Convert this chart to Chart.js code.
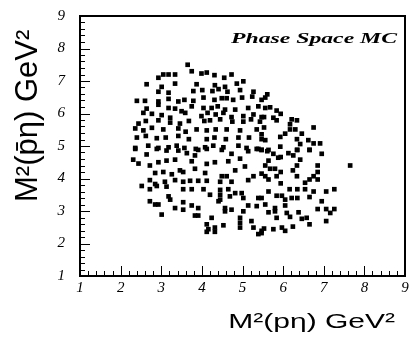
<!DOCTYPE html>
<html>
<head>
<meta charset="utf-8">
<script src="https://cdn.jsdelivr.net/npm/chart.js@4.4.1/dist/chart.umd.min.js"></script>
<style>
  html, body { margin: 0; padding: 0; background: #fff; }
</style>
</head>
<body>
<canvas id="dalitz" width="413" height="349"></canvas>
<script>
// eixos
const axisMin = 1;
const axisMax = 9;
const tickLabels = [1, 2, 3, 4, 5, 6, 7, 8, 9];
const xTitle = "M\u00b2(p\u03b7) GeV\u00b2";
const yTitle = "M\u00b2(p\u0304\u03b7) GeV\u00b2";
const plotLabel = "Phase Space MC";

// eventos: [M²(pη), M²(p̄η)]
const events = [
  [3.65, 7.50],
  [2.93, 7.10], [3.05, 7.20], [3.18, 7.20], [3.34, 7.20], [3.75, 7.30], [3.99, 7.23], [4.12, 7.26],
  [4.31, 7.18], [4.55, 7.10], [4.73, 7.20],
  [2.64, 6.90], [3.01, 6.82], [3.34, 6.92], [3.87, 6.90], [4.32, 6.87], [4.57, 6.82], [4.86, 6.92],
  [5.02, 6.99],
  [2.93, 6.67], [3.18, 6.64], [3.79, 6.69], [4.01, 6.72], [4.26, 6.69], [4.41, 6.75], [4.63, 6.67],
  [4.94, 6.72], [5.27, 6.67],
  [2.40, 6.39], [2.60, 6.39], [2.93, 6.37], [3.18, 6.45], [3.42, 6.37], [3.57, 6.42], [3.79, 6.39],
  [4.04, 6.49], [4.31, 6.42], [4.49, 6.47], [4.61, 6.47], [4.77, 6.42], [4.99, 6.49], [5.24, 6.52],
  [2.64, 6.15], [2.93, 6.27], [3.18, 6.17], [3.34, 6.15], [3.50, 6.07], [3.75, 6.22], [4.04, 6.17],
  [4.24, 6.17], [4.39, 6.22], [4.57, 6.12], [4.82, 6.12], [5.14, 6.17], [5.39, 6.22],
  [2.56, 6.02], [2.77, 5.99], [3.01, 5.95], [3.22, 5.87], [3.59, 6.02], [3.99, 5.92], [4.14, 6.02],
  [4.34, 5.97], [4.53, 6.02], [4.73, 5.89], [5.02, 5.92], [5.27, 5.97], [5.47, 5.89],
  [2.44, 5.69], [2.62, 5.77], [2.93, 5.79], [3.22, 5.72], [3.46, 5.69], [3.68, 5.77], [4.06, 5.77],
  [4.20, 5.79], [4.45, 5.82], [4.75, 5.75], [5.02, 5.75], [5.21, 5.82], [5.43, 5.75],
  [2.36, 5.54], [2.56, 5.48], [2.77, 5.56], [3.05, 5.51], [3.42, 5.54], [3.60, 5.44], [3.87, 5.51],
  [4.12, 5.48], [4.34, 5.51], [4.61, 5.51], [4.94, 5.48], [5.35, 5.51],
  [2.40, 5.26], [2.62, 5.31], [2.89, 5.24], [3.11, 5.26], [3.42, 5.31], [3.68, 5.21], [4.12, 5.21],
  [4.31, 5.26], [4.59, 5.21], [4.90, 5.26], [5.16, 5.26], [5.47, 5.21],
  [2.36, 4.94], [2.68, 5.01], [2.93, 4.94], [3.18, 4.96], [3.38, 5.01], [3.57, 4.94], [3.85, 4.91],
  [4.08, 4.96], [4.28, 5.01], [4.53, 4.96], [4.90, 5.01], [5.10, 4.94], [5.39, 4.91],
  // lado direito, parte de cima
  [5.61, 6.59], [5.47, 6.42], [5.56, 6.49], [5.56, 6.17], [5.68, 6.19], [5.84, 6.09], [5.94, 5.99],
  [5.53, 5.89], [5.76, 5.87], [5.84, 5.79], [6.21, 5.82], [6.34, 5.79], [6.17, 5.67], [6.17, 5.51],
  [6.30, 5.51], [6.75, 5.57], [5.53, 5.57], [5.47, 5.36], [6.05, 5.38], [5.93, 5.28], [6.46, 5.38],
  [6.34, 5.21], [6.42, 5.06], [6.62, 5.18], [6.75, 5.08], [6.91, 5.08], [5.56, 5.18], [5.93, 4.98],
  [5.47, 4.88], [5.64, 4.88], [6.34, 4.88], [6.65, 4.88],
  // metade de baixo, lado esquerdo
  [2.36, 4.91], [2.64, 4.74], [2.89, 4.91], [3.13, 4.86], [3.42, 4.86], [3.63, 4.78], [3.83, 4.71],
  [3.91, 4.88], [4.12, 4.91], [4.49, 4.88], [4.73, 4.76], [5.14, 4.84], [5.35, 4.91],
  [2.31, 4.58], [2.44, 4.46], [2.72, 4.40], [2.93, 4.50], [3.13, 4.55], [3.34, 4.58], [3.75, 4.53],
  [4.12, 4.45], [4.32, 4.50], [4.65, 4.53], [4.94, 4.61], [5.06, 4.37],
  [2.85, 4.17], [3.05, 4.20], [3.26, 4.13], [3.46, 4.25], [3.54, 4.20], [3.83, 4.30], [4.08, 4.17],
  [4.49, 4.07], [4.61, 4.07], [4.82, 4.25], [5.27, 4.07], [5.47, 4.15],
  [2.72, 3.95], [2.85, 3.83], [3.09, 3.90], [3.34, 3.95], [3.54, 3.90], [3.71, 3.93], [3.91, 3.93],
  [4.12, 3.93], [4.45, 3.90], [4.73, 3.90], [5.14, 3.95],
  [2.52, 3.77], [2.72, 3.67], [2.89, 3.77], [3.13, 3.75], [3.54, 3.67], [3.75, 3.67], [4.04, 3.67],
  [4.45, 3.65], [4.65, 3.67],
  [3.18, 3.45], [3.22, 3.35], [4.20, 3.50], [4.45, 3.50], [4.45, 3.35], [4.69, 3.45], [4.82, 3.55],
  [4.98, 3.55], [5.02, 3.40], [5.39, 3.40], [2.72, 3.30],
  [2.85, 3.20], [2.93, 3.20], [3.34, 3.09], [3.54, 3.27], [3.75, 3.17], [4.41, 3.30], [4.57, 3.09],
  [4.73, 3.04], [5.14, 3.17], [5.35, 3.15],
  [3.01, 2.89], [3.54, 3.04], [3.83, 2.86], [3.91, 3.09], [3.91, 2.86], [4.24, 2.79], [4.57, 2.99],
  [4.94, 2.79], [5.02, 2.99], [5.22, 2.69],
  [4.12, 2.59], [4.16, 2.44], [4.32, 2.49], [4.53, 2.56], [4.94, 2.64], [4.94, 2.49], [5.27, 2.49],
  [5.39, 2.29], [5.47, 2.39], [4.32, 2.36], [4.12, 2.36],
  // metade de baixo, lado direito
  [5.47, 4.88], [5.61, 4.84], [5.76, 4.76], [5.88, 4.64], [5.94, 4.66], [6.13, 4.78], [6.25, 4.71],
  [6.35, 4.88], [6.42, 4.58], [6.65, 4.88], [6.95, 4.76],
  [5.64, 4.55], [5.56, 4.40], [5.68, 4.30], [5.80, 4.30], [5.94, 4.20], [6.24, 4.25], [6.34, 4.40],
  [6.85, 4.40], [7.65, 4.40],
  [5.56, 4.07], [5.64, 3.97], [5.84, 4.07], [6.34, 4.07], [6.75, 4.07], [6.85, 4.20], [6.65, 3.97],
  [6.85, 3.97], [6.54, 3.87],
  [5.94, 3.85], [5.64, 3.60], [6.16, 3.67], [6.35, 3.67], [6.54, 3.67], [6.75, 3.60], [7.06, 3.60],
  [7.26, 3.67],
  [5.47, 3.40], [5.84, 3.47], [5.97, 3.47], [6.05, 3.35], [6.21, 3.40], [6.35, 3.40], [6.65, 3.43],
  [6.95, 3.30], [5.56, 3.20], [5.80, 3.09], [6.05, 3.17],
  [5.80, 2.99], [6.09, 2.94], [6.17, 2.82], [5.64, 2.96], [5.84, 2.79], [6.38, 2.96], [6.46, 2.76],
  [6.58, 2.79], [6.85, 3.06], [7.06, 3.06], [7.16, 2.94], [7.26, 3.06], [7.06, 2.69], [6.65, 2.59],
  [5.53, 2.46], [5.47, 2.32], [5.76, 2.44], [5.97, 2.49], [6.05, 2.39], [6.24, 2.52]
];

// ticks menores a cada 0.2 (dentro da moldura)
const minorStep = 0.2;

// escreve um texto esticado/achatado (a figura original foi redimensionada)
function textoEsticado(ctx, txt, x, y, sx, sy) {
  ctx.save();
  ctx.translate(x, y);
  ctx.scale(sx, sy);
  ctx.fillText(txt, 0, 0);
  ctx.restore();
}

// Plugin que desenha a moldura, os ticks para dentro e os textos
const molduraPlugin = {
  id: "moldura",
  afterDatasetsDraw(chart) {
    const { ctx, chartArea: a, scales } = chart;
    const x = scales.x;
    const y = scales.y;
    ctx.save();
    ctx.strokeStyle = "#000";
    ctx.lineWidth = 1;
    ctx.beginPath();
    const n = Math.round((axisMax - axisMin) / minorStep);
    for (let i = 0; i <= n; i++) {
      const v = axisMin + i * minorStep;
      const len = i % 5 === 0 ? 10 : 5;
      const px = Math.round(x.getPixelForValue(v)) + 0.5;
      ctx.moveTo(px, a.bottom);
      ctx.lineTo(px, a.bottom - len);
      const py = Math.round(y.getPixelForValue(v)) + 0.5;
      ctx.moveTo(a.left, py);
      ctx.lineTo(a.left + len, py);
    }
    ctx.stroke();
    ctx.lineWidth = 2;
    ctx.strokeRect(a.left, a.top, a.right - a.left, a.bottom - a.top);

    ctx.fillStyle = "#000";
    ctx.textBaseline = "alphabetic";

    // rótulo dentro do gráfico
    ctx.font = 'italic bold 14px "Liberation Serif"';
    ctx.textAlign = "right";
    const w = ctx.measureText(plotLabel).width;
    textoEsticado(ctx, plotLabel, a.right - 8, a.top + 27, 166 / w, 1);

    // título do eixo x (à direita, embaixo)
    ctx.font = '30px "Liberation Sans"';
    ctx.textAlign = "right";
    textoEsticado(ctx, xTitle, a.right - 10, 328, 1, 0.68);

    // título do eixo y (girado)
    ctx.save();
    ctx.translate(37, 202);
    ctx.rotate(-Math.PI / 2);
    ctx.font = '31px "Liberation Sans"';
    ctx.textAlign = "left";
    ctx.fillText(yTitle, 0, 0);
    ctx.restore();

    ctx.restore();
  },
};

const tickFont = { family: "Liberation Serif", style: "italic", size: 15 };

new Chart(document.getElementById("dalitz"), {
  type: "scatter",
  data: {
    datasets: [
      {
        label: plotLabel,
        data: events.map((e) => ({ x: e[0], y: e[1] })),
        pointStyle: "rect",
        radius: 3.3,
        backgroundColor: "#000",
        borderWidth: 0,
      },
    ],
  },
  options: {
    responsive: false,
    animation: false,
    layout: { padding: { top: 11, right: 8, left: 0, bottom: 0 } },
    plugins: { legend: { display: false }, tooltip: { enabled: false } },
    scales: {
      x: {
        type: "linear",
        min: axisMin,
        max: axisMax,
        afterBuildTicks: (s) => { s.ticks = tickLabels.map((v) => ({ value: v })); },
        afterFit: (s) => { s.height = 73; },
        ticks: { color: "#000", font: tickFont, padding: -5 },
        grid: { display: false },
        border: { display: false },
      },
      y: {
        type: "linear",
        min: axisMin,
        max: axisMax,
        afterBuildTicks: (s) => { s.ticks = tickLabels.map((v) => ({ value: v })); },
        afterFit: (s) => { s.width = 80; },
        ticks: { color: "#000", font: tickFont, padding: 7 },
        grid: { display: false },
        border: { display: false },
      },
    },
  },
  plugins: [molduraPlugin],
});
</script>
</body>
</html>
